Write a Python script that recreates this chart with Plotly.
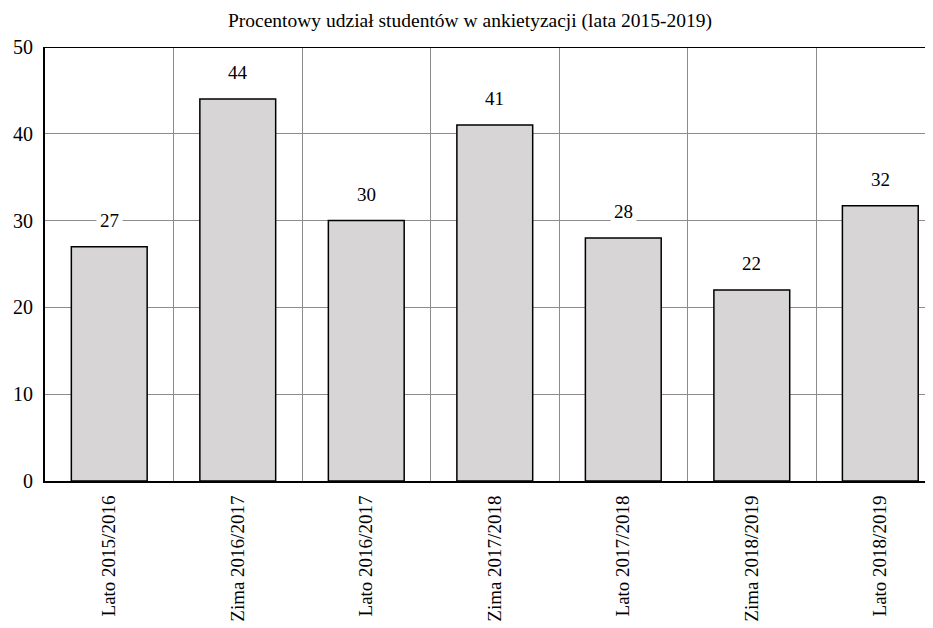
import plotly.graph_objects as go

categories = ["Lato 2015/2016", "Zima 2016/2017", "Lato 2016/2017", "Zima 2017/2018",
              "Lato 2017/2018", "Zima 2018/2019", "Lato 2018/2019"]
values = [27, 44, 30, 41, 28, 22, 31.7]
labels = ["27", "44", "30", "41", "28", "22", "32"]
y_ticks = [0, 10, 20, 30, 40, 50]

FONT = "Liberation Serif, Times New Roman, serif"

fig = go.Figure()
fig.add_trace(go.Bar(
    x=categories, y=values, width=0.59,
    marker=dict(color="#d8d5d6", line=dict(color="black", width=1.5)),
    hoverinfo="skip",
))

for c, v, t in zip(categories, values, labels):
    fig.add_annotation(x=c, y=v, text=t, showarrow=False, yanchor="bottom",
                       yshift=12, bgcolor="white", borderpad=3,
                       font=dict(family=FONT, size=19, color="black"))

fig.add_shape(type="line", xref="paper", yref="y", x0=0, x1=1, y0=50, y1=50,
              line=dict(color="black", width=2))

fig.update_layout(
    width=925, height=620,
    margin=dict(l=37, r=0, t=39, b=147, autoexpand=False),
    paper_bgcolor="white", plot_bgcolor="white",
    showlegend=False,
    font=dict(family=FONT, size=19, color="black"),
    title=dict(text="Procentowy udział studentów w ankietyzacji (lata 2015-2019)",
               x=0.4995, xanchor="center", y=0.981, yanchor="middle",
               font=dict(family=FONT, size=19.5, color="black")),
)
fig.update_xaxes(
    type="category", range=[-0.5, 6.41], tickson="boundaries", automargin=False,
    showgrid=True, gridcolor="#8c8c8c", gridwidth=1,
    showline=True, linecolor="black", linewidth=2,
    ticks="", tickangle=-90, ticklabelstandoff=5,
    tickfont=dict(family=FONT, size=19, color="black"),
)
fig.update_yaxes(
    range=[0, 50], tickvals=y_ticks, automargin=False,
    showgrid=True, gridcolor="#8c8c8c", gridwidth=1,
    showline=True, linecolor="black", linewidth=2,
    zeroline=False, ticks="", ticklabelstandoff=6,
    tickfont=dict(family=FONT, size=20, color="black"),
)

fig.write_html("out.html")
